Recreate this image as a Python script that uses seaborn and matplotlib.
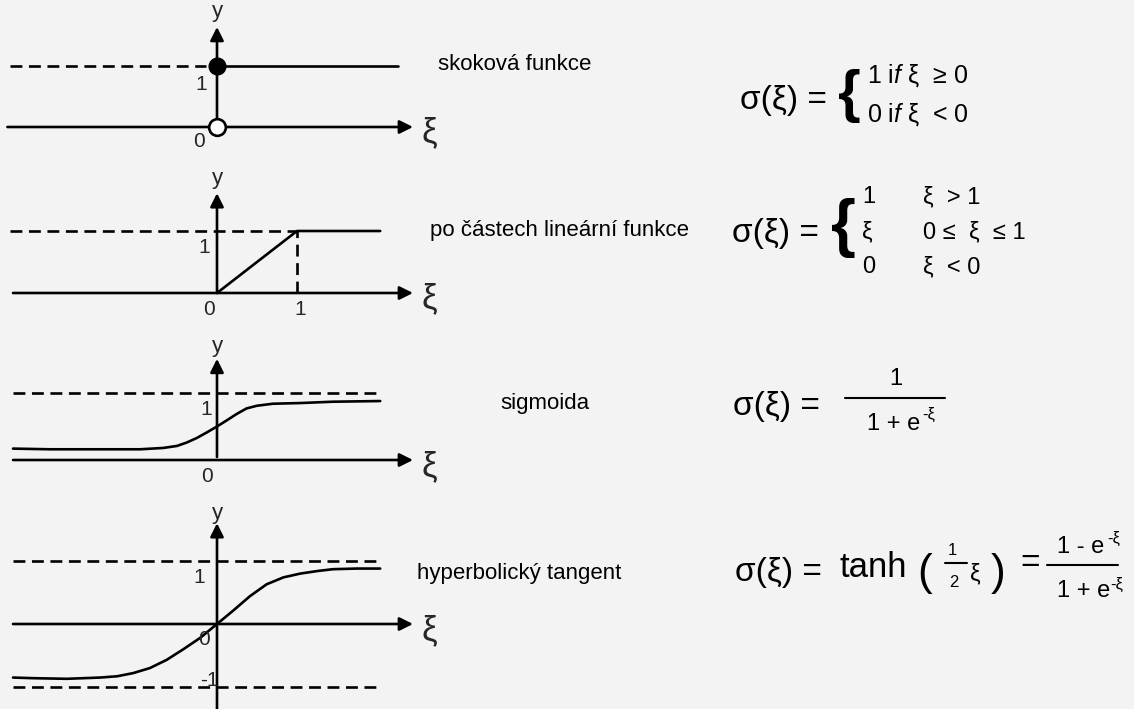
import numpy as np
import matplotlib
matplotlib.use("Agg")
import matplotlib.pyplot as plt
from matplotlib.lines import Line2D
import seaborn as sns

W, H = 1134, 709

#curve values (x in units of the ramp's "1", y in function units)
step_x = [0.0, 2.26]
step_y = [1.0, 1.0]
ramp_x = [0.0, 1.0, 2.04]
ramp_y = [0.0, 1.0, 1.0]
sig_x = [-2.55, -2.09, -1.46, -0.96, -0.67, -0.50, -0.38, -0.25, -0.13, 0.0,
         0.12, 0.25, 0.37, 0.50, 0.70, 1.04, 1.45, 2.04]
sig_y = [0.17, 0.16, 0.16, 0.16, 0.18, 0.21, 0.26, 0.33, 0.41, 0.50,
         0.59, 0.69, 0.77, 0.81, 0.84, 0.85, 0.87, 0.88]
tanh_x = [-2.55, -2.30, -1.88, -1.46, -1.25, -1.05, -0.84, -0.63, -0.42, -0.21, 0.0,
          0.20, 0.41, 0.62, 0.83, 1.04, 1.25, 1.45, 1.75, 2.04]
tanh_y = [-0.85, -0.86, -0.87, -0.85, -0.83, -0.78, -0.70, -0.57, -0.40, -0.22, 0.0,
          0.21, 0.44, 0.63, 0.74, 0.80, 0.84, 0.87, 0.88, 0.88]

names = ["skoková funkce", "po částech lineární funkce", "sigmoida", "hyperbolický tangent"]

sns.set_theme(style="white")
plt.rcParams["font.family"] = ["Liberation Sans", "DejaVu Sans"]
plt.rcParams["mathtext.fontset"] = "custom"
plt.rcParams["mathtext.rm"] = "Liberation Sans"
plt.rcParams["mathtext.it"] = "Liberation Sans:italic"

BG = "#f3f3f3"
LW = 1.9
DASH = (0, (4.5, 2.5))

fig = plt.figure(figsize=(W / 100, H / 100), dpi=100, facecolor=BG)


#one panel per row, placed so that the origin sits where it is in the picture
def panel(top, bot, oy, unit, ox=217, xunit=80, right=450):
    ax = fig.add_axes([0, 1 - bot / H, right / W, (bot - top) / H])
    ax.set_xlim(-ox / xunit, (right - ox) / xunit)
    ax.set_ylim(-(bot - oy) / unit, (oy - top) / unit)
    ax.axis("off")
    ax.patch.set_alpha(0)
    return ax


def arrow(ax, x0, y0, x1, y1):
    ax.annotate("", xy=(x1, y1), xytext=(x0, y0),
                arrowprops=dict(arrowstyle="-|>", lw=LW, color="black",
                                mutation_scale=20, shrinkA=0, shrinkB=0))


def axes_decor(ax, xstart, ytop, ybot, ylab):
    arrow(ax, xstart, 0, 2.45, 0)
    arrow(ax, 0, ybot, 0, ytop)
    ax.text(2.66, -0.1, "ξ", fontsize=25, ha="center", va="center")
    ax.text(0.0, ylab, "y", fontsize=16, ha="center", va="center")


def ftext(px, py, s, **kw):
    fig.text(px / W, 1 - py / H, s, color="black", **kw)


def fline(x0, x1, py):
    fig.add_artist(Line2D([x0 / W, x1 / W], [1 - py / H] * 2, color="black", lw=1.5,
                          transform=fig.transFigure))


# row 1: step
ax1 = panel(0, 160, 127, 61)
axes_decor(ax1, -2.62, 1.64, 0, 1.90)
ax1.plot([-2.59, -0.14], [1, 1], color="black", lw=LW, ls=DASH)
sns.lineplot(x=step_x, y=step_y, ax=ax1, color="black", lw=LW, estimator=None, sort=False)
ax1.plot([0], [1], "o", ms=12, color="black", zorder=5)
ax1.plot([0], [0], "o", ms=12, mfc="white", mec="black", mew=LW, zorder=5)
ax1.text(-0.2, 0.69, "1", fontsize=15, ha="center", va="center")
ax1.text(-0.22, -0.23, "0", fontsize=15, ha="center", va="center")

# row 2: piecewise linear
ax2 = panel(160, 330, 293, 62)
axes_decor(ax2, -2.55, 1.61, 0, 1.85)
ax2.plot([-2.59, 1.0], [1, 1], color="black", lw=LW, ls=DASH)
ax2.plot([1.0, 1.0], [0, 1], color="black", lw=LW, ls=DASH)
sns.lineplot(x=ramp_x, y=ramp_y, ax=ax2, color="black", lw=LW, estimator=None, sort=False)
ax2.text(-0.16, 0.73, "1", fontsize=15, ha="center", va="center")
ax2.text(-0.1, -0.26, "0", fontsize=15, ha="center", va="center")
ax2.text(1.04, -0.26, "1", fontsize=15, ha="center", va="center")

# row 3: sigmoid
ax3 = panel(330, 495, 460, 67)
axes_decor(ax3, -2.55, 1.51, 0.045, 1.70)
ax3.plot([-2.55, 2.04], [1, 1], color="black", lw=LW, ls=DASH)
sns.lineplot(x=sig_x, y=sig_y, ax=ax3, color="black", lw=LW, estimator=None, sort=False)
ax3.text(-0.14, 0.75, "1", fontsize=15, ha="center", va="center")
ax3.text(-0.12, -0.24, "0", fontsize=15, ha="center", va="center")

# row 4: tanh
ax4 = panel(495, 709, 624, 63)
axes_decor(ax4, -2.55, 1.60, -1.35, 1.75)
ax4.plot([-2.55, 2.04], [1, 1], color="black", lw=LW, ls=DASH)
ax4.plot([-2.55, 2.04], [-1, -1], color="black", lw=LW, ls=DASH)
sns.lineplot(x=tanh_x, y=tanh_y, ax=ax4, color="black", lw=LW, estimator=None, sort=False)
ax4.text(-0.22, 0.74, "1", fontsize=15, ha="center", va="center")
ax4.text(-0.16, -0.25, "0", fontsize=15, ha="center", va="center")
ax4.text(-0.1, -0.90, "-1", fontsize=15, ha="center", va="center")

# names in the middle column
ftext(438, 64, names[0], fontsize=16, va="center")
ftext(430, 231, names[1], fontsize=16, va="center")
ftext(545, 403, names[2], fontsize=16, va="center", ha="center")
ftext(417, 573, names[3], fontsize=16, va="center")

# formula 1
ftext(740, 100, "σ(ξ) =", fontsize=24, va="center")
ftext(838, 96, "{", fontsize=42, va="center", fontweight="bold")
ftext(867, 83, "1 i$\\mathit{f}$ ξ  ≥ 0", fontsize=18, va="baseline")
ftext(867, 122, "0 i$\\mathit{f}$ ξ  < 0", fontsize=18, va="baseline")

# formula 2
ftext(732, 234, "σ(ξ) =", fontsize=24, va="center")
ftext(831, 228, "{", fontsize=46, va="center", fontweight="bold")
for py, a, b in [(203, "1", "ξ  > 1"), (238, "ξ", "0 ≤  ξ  ≤ 1"), (273, "0", "ξ  < 0")]:
    ftext(862, py, a, fontsize=17, va="baseline")
    ftext(923, py, b, fontsize=17, va="baseline")

# formula 3
ftext(733, 407, "σ(ξ) =", fontsize=24, va="center")
fline(845, 945, 398)
ftext(896, 385, "1", fontsize=17, va="baseline", ha="center")
ftext(867, 430, "1 + e", fontsize=17, va="baseline")
ftext(922, 419, "-ξ", fontsize=12, va="baseline")

# formula 4
ftext(735, 572, "σ(ξ) =", fontsize=24, va="center")
ftext(840, 577, "tanh", fontsize=25, va="baseline")
ftext(917, 573, "(", fontsize=32, va="center")
ftext(952, 555, "1", fontsize=12, va="baseline", ha="center")
fline(945, 967, 563)
ftext(954, 587, "2", fontsize=12, va="baseline", ha="center")
ftext(970, 580, "ξ", fontsize=17, va="baseline")
ftext(991, 573, ")", fontsize=32, va="center")
ftext(1020, 563, "=", fontsize=24, va="center")
fline(1047, 1118, 565)
ftext(1057, 553, "1 - e", fontsize=17, va="baseline")
ftext(1107, 543, "-ξ", fontsize=12, va="baseline")
ftext(1057, 597, "1 + e", fontsize=17, va="baseline")
ftext(1110, 589, "-ξ", fontsize=12, va="baseline")

fig.savefig("out.png", dpi=100, facecolor=BG)
